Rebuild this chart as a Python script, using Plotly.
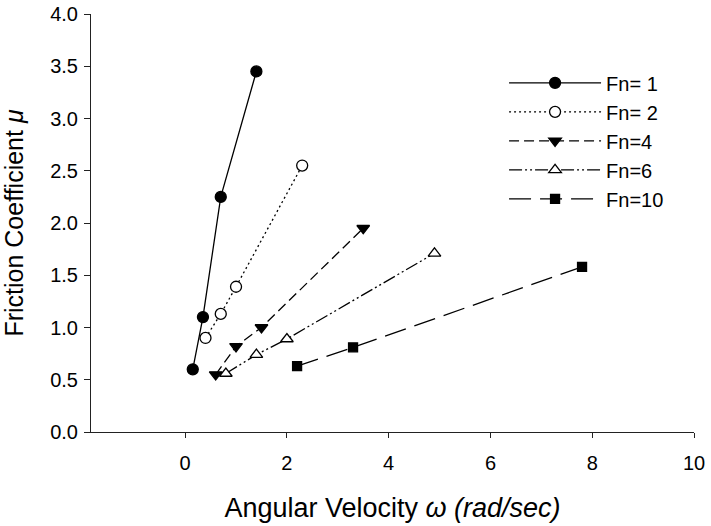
import plotly.graph_objects as go

# Data
fn1_x = [0.15, 0.35, 0.7, 1.4]
fn1_y = [0.60, 1.10, 2.25, 3.45]
fn2_x = [0.4, 0.7, 1.0, 2.3]
fn2_y = [0.90, 1.13, 1.39, 2.55]
fn4_x = [0.6, 1.0, 1.5, 3.5]
fn4_y = [0.55, 0.82, 1.00, 1.95]
fn6_x = [0.8, 1.4, 2.0, 4.9]
fn6_y = [0.56, 0.74, 0.89, 1.71]
fn10_x = [2.2, 3.3, 7.8]
fn10_y = [0.63, 0.81, 1.58]

series_names = ["Fn= 1", "Fn= 2", "Fn=4", "Fn=6", "Fn=10"]
x_ticks = [0, 2, 4, 6, 8, 10]
y_ticks = [0.0, 0.5, 1.0, 1.5, 2.0, 2.5, 3.0, 3.5, 4.0]

FONT = "Liberation Sans, Arial, sans-serif"
BLACK = "#000000"

styles = [
    dict(dash="solid", symbol="circle", size=11, fill=BLACK),
    dict(dash="2px,3px", symbol="circle", size=11, fill="white"),
    dict(dash="10px,5px", symbol="triangle-down", size=11, fill=BLACK),
    dict(dash="13px,3px,2px,3px,2px,3px", symbol="triangle-up", size=11, fill="white"),
    dict(dash="22px,9px", symbol="square", size=9, fill=BLACK),
]
data = [(fn1_x, fn1_y), (fn2_x, fn2_y), (fn4_x, fn4_y), (fn6_x, fn6_y), (fn10_x, fn10_y)]

fig = go.Figure()
for name, (xs, ys), st in zip(series_names, data, styles):
    fig.add_trace(go.Scatter(
        x=xs, y=ys, name=name, mode="lines+markers",
        line=dict(color=BLACK, width=1.3, dash=st["dash"]),
        marker=dict(symbol=st["symbol"], size=st["size"], color=st["fill"],
                    line=dict(color=BLACK, width=1.3)),
    ))

fig.update_layout(
    width=711, height=526,
    margin=dict(l=91, r=17, t=14, b=93.5),
    paper_bgcolor="white", plot_bgcolor="white",
    font=dict(family=FONT, size=20, color=BLACK),
    legend=dict(
        x=0.685, y=0.882, xanchor="left", yanchor="top",
        font=dict(family=FONT, size=20, color=BLACK),
        bgcolor="rgba(0,0,0,0)", itemwidth=92, tracegroupgap=0,
    ),
    xaxis=dict(
        range=[-1.85, 10], tickvals=x_ticks, ticktext=[str(v) for v in x_ticks],
        showline=True, linecolor="#222222", linewidth=1,
        ticks="outside", ticklen=5, tickcolor="#222222", ticklabelstandoff=8,
        showgrid=False, zeroline=False, automargin=False,
        tickfont=dict(family=FONT, size=20),
        title=dict(text="Angular Velocity <i>ω (rad/sec)</i>",
                   font=dict(family=FONT, size=27), standoff=25),
    ),
    yaxis=dict(
        range=[0, 4], tickvals=y_ticks, tickformat=".1f",
        showline=True, linecolor="#222222", linewidth=1,
        ticks="outside", ticklen=6, tickcolor="#222222", ticklabelstandoff=2,
        showgrid=False, zeroline=False, automargin=False,
        tickfont=dict(family=FONT, size=20),
        title=dict(text="Friction Coefficient <i>μ</i>",
                   font=dict(family=FONT, size=25), standoff=27),
    ),
)

fig.write_html("out.html", config={"displayModeBar": False},
               post_script="document.body.style.margin='0';")
